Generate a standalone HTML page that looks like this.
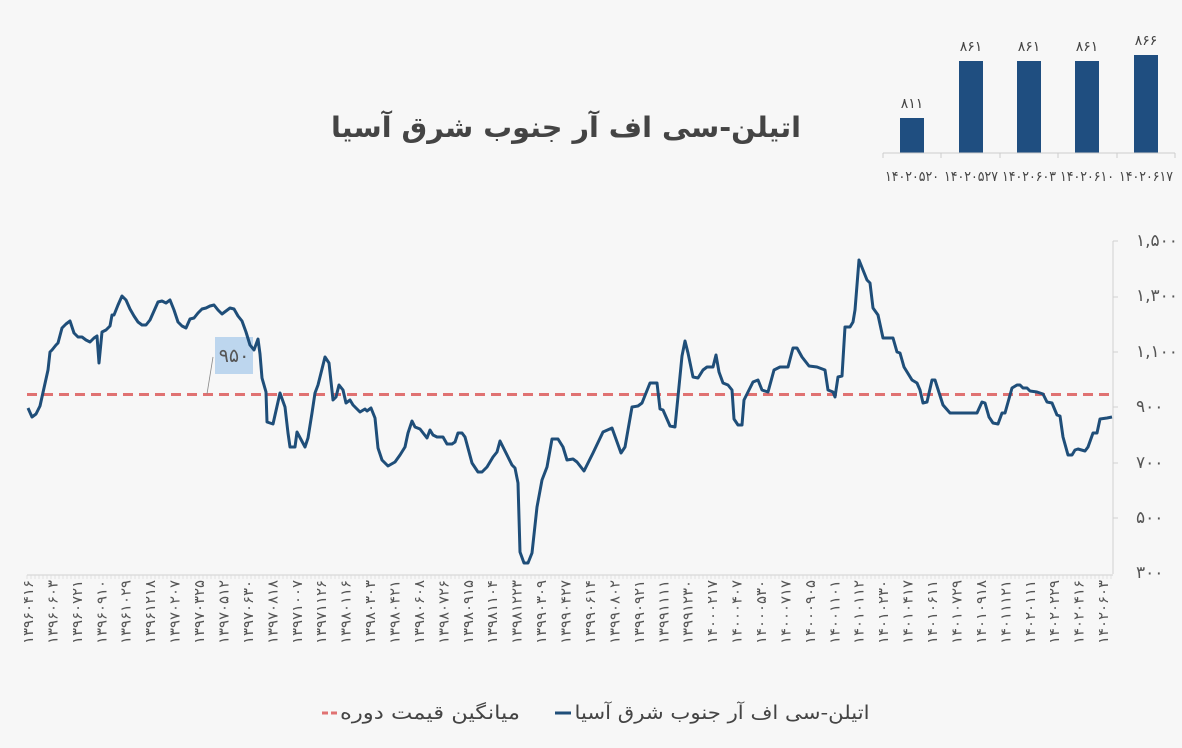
<!DOCTYPE html>
<html><head><meta charset="utf-8"><style>
html,body{margin:0;padding:0;background:#f7f7f7;}
svg{display:block;}
text{font-family:"DejaVu Sans","Liberation Sans",sans-serif;}
</style></head><body>
<svg width="1182" height="748" viewBox="0 0 1182 748" xmlns="http://www.w3.org/2000/svg">
<rect width="1182" height="748" fill="#f7f7f7"/>
<text x="566" y="137" text-anchor="middle" font-size="28" font-weight="bold" fill="#444" textLength="470" lengthAdjust="spacingAndGlyphs">اتیلن-سی اف آر جنوب شرق آسیا</text>
<g fill="#1f4e80">
<rect x="900" y="118" width="24" height="35"/>
<rect x="959" y="61" width="24" height="92"/>
<rect x="1017" y="61" width="24" height="92"/>
<rect x="1075" y="61" width="24" height="92"/>
<rect x="1134" y="55" width="24" height="98"/>
</g>
<line x1="883" y1="153" x2="1175" y2="153" stroke="#ccc" stroke-width="1"/>
<g stroke="#ccc" stroke-width="1">
<line x1="883" y1="153" x2="883" y2="158"/><line x1="941" y1="153" x2="941" y2="158"/><line x1="1000" y1="153" x2="1000" y2="158"/><line x1="1058" y1="153" x2="1058" y2="158"/><line x1="1117" y1="153" x2="1117" y2="158"/><line x1="1175" y1="153" x2="1175" y2="158"/>
</g>
<g font-size="14" fill="#444" text-anchor="middle">
<text x="912" y="108">۸۱۱</text><text x="971" y="51">۸۶۱</text><text x="1029" y="51">۸۶۱</text><text x="1087" y="51">۸۶۱</text><text x="1146" y="45">۸۶۶</text>
</g>
<g font-size="14" fill="#444" text-anchor="middle">
<text x="912" y="181" textLength="54" lengthAdjust="spacingAndGlyphs">۱۴۰۲۰۵۲۰</text><text x="971" y="181" textLength="54" lengthAdjust="spacingAndGlyphs">۱۴۰۲۰۵۲۷</text><text x="1029" y="181" textLength="54" lengthAdjust="spacingAndGlyphs">۱۴۰۲۰۶۰۳</text><text x="1087" y="181" textLength="54" lengthAdjust="spacingAndGlyphs">۱۴۰۲۰۶۱۰</text><text x="1146" y="181" textLength="54" lengthAdjust="spacingAndGlyphs">۱۴۰۲۰۶۱۷</text>
</g>
<line x1="1113" y1="241" x2="1113" y2="574" stroke="#d0d0d0" stroke-width="1"/>
<g stroke="#d0d0d0"><line x1="1113" y1="241" x2="1118" y2="241"/><line x1="1113" y1="297" x2="1118" y2="297"/><line x1="1113" y1="352" x2="1118" y2="352"/><line x1="1113" y1="407" x2="1118" y2="407"/><line x1="1113" y1="463" x2="1118" y2="463"/><line x1="1113" y1="518" x2="1118" y2="518"/></g>
<g font-size="17" fill="#555">
<text x="1136" y="246">۱,۵۰۰</text><text x="1136" y="301">۱,۳۰۰</text><text x="1136" y="357">۱,۱۰۰</text><text x="1136" y="412">۹۰۰</text><text x="1136" y="468">۷۰۰</text><text x="1136" y="523">۵۰۰</text><text x="1136" y="578">۳۰۰</text>
</g>
<line x1="27" y1="575" x2="1113" y2="575" stroke="#d0d0d0" stroke-width="1"/>
<path stroke="#dadada" stroke-width="0.8" d="
M27 575v4M31 575v4M35 575v4M39 575v4M43 575v4M47 575v4M51 575v4M55 575v4M59 575v4M63 575v4M67 575v4M71 575v4M75 575v4M79 575v4M83 575v4M87 575v4M91 575v4M95 575v4M99 575v4M103 575v4M107 575v4M111 575v4M115 575v4M119 575v4M123 575v4M127 575v4M131 575v4M135 575v4M139 575v4M143 575v4M147 575v4M151 575v4M155 575v4M159 575v4M163 575v4M167 575v4M171 575v4M175 575v4M179 575v4M183 575v4M187 575v4M191 575v4M195 575v4M199 575v4M203 575v4M207 575v4M211 575v4M215 575v4M219 575v4M223 575v4M227 575v4M231 575v4M235 575v4M239 575v4M243 575v4M247 575v4M251 575v4M255 575v4M259 575v4M263 575v4M267 575v4M271 575v4M275 575v4M279 575v4M283 575v4M287 575v4M291 575v4M295 575v4M299 575v4M303 575v4M307 575v4M311 575v4M315 575v4M319 575v4M323 575v4M327 575v4M331 575v4M335 575v4M339 575v4M343 575v4M347 575v4M351 575v4M355 575v4M359 575v4M363 575v4M367 575v4M371 575v4M375 575v4M379 575v4M383 575v4M387 575v4M391 575v4M395 575v4M399 575v4M403 575v4M407 575v4M411 575v4M415 575v4M419 575v4M423 575v4M427 575v4M431 575v4M435 575v4M439 575v4M443 575v4M447 575v4M451 575v4M455 575v4M459 575v4M463 575v4M467 575v4M471 575v4M475 575v4M479 575v4M483 575v4M487 575v4M491 575v4M495 575v4M499 575v4M503 575v4M507 575v4M511 575v4M515 575v4M519 575v4M523 575v4M527 575v4M531 575v4M535 575v4M539 575v4M543 575v4M547 575v4M551 575v4M555 575v4M559 575v4M563 575v4M567 575v4M571 575v4M575 575v4M579 575v4M583 575v4M587 575v4M591 575v4M595 575v4M599 575v4M603 575v4M607 575v4M611 575v4M615 575v4M619 575v4M623 575v4M627 575v4M631 575v4M635 575v4M639 575v4M643 575v4M647 575v4M651 575v4M655 575v4M659 575v4M663 575v4M667 575v4M671 575v4M675 575v4M679 575v4M683 575v4M687 575v4M691 575v4M695 575v4M699 575v4M703 575v4M707 575v4M711 575v4M715 575v4M719 575v4M723 575v4M727 575v4M731 575v4M735 575v4M739 575v4M743 575v4M747 575v4M751 575v4M755 575v4M759 575v4M763 575v4M767 575v4M771 575v4M775 575v4M779 575v4M783 575v4M787 575v4M791 575v4M795 575v4M799 575v4M803 575v4M807 575v4M811 575v4M815 575v4M819 575v4M823 575v4M827 575v4M831 575v4M835 575v4M839 575v4M843 575v4M847 575v4M851 575v4M855 575v4M859 575v4M863 575v4M867 575v4M871 575v4M875 575v4M879 575v4M883 575v4M887 575v4M891 575v4M895 575v4M899 575v4M903 575v4M907 575v4M911 575v4M915 575v4M919 575v4M923 575v4M927 575v4M931 575v4M935 575v4M939 575v4M943 575v4M947 575v4M951 575v4M955 575v4M959 575v4M963 575v4M967 575v4M971 575v4M975 575v4M979 575v4M983 575v4M987 575v4M991 575v4M995 575v4M999 575v4M1003 575v4M1007 575v4M1011 575v4M1015 575v4M1019 575v4M1023 575v4M1027 575v4M1031 575v4M1035 575v4M1039 575v4M1043 575v4M1047 575v4M1051 575v4M1055 575v4M1059 575v4M1063 575v4M1067 575v4M1071 575v4M1075 575v4M1079 575v4M1083 575v4M1087 575v4M1091 575v4M1095 575v4M1099 575v4M1103 575v4M1107 575v4M1111 575v4"/>
<g font-size="14" fill="#555" text-anchor="end">
<text transform="translate(33,580) rotate(-90)" textLength="64" lengthAdjust="spacingAndGlyphs">۱۳۹۶۰۴۱۶</text>
<text transform="translate(57.4,580) rotate(-90)" textLength="64" lengthAdjust="spacingAndGlyphs">۱۳۹۶۰۶۰۳</text>
<text transform="translate(81.9,580) rotate(-90)" textLength="64" lengthAdjust="spacingAndGlyphs">۱۳۹۶۰۷۲۱</text>
<text transform="translate(106.3,580) rotate(-90)" textLength="64" lengthAdjust="spacingAndGlyphs">۱۳۹۶۰۹۱۰</text>
<text transform="translate(130.7,580) rotate(-90)" textLength="64" lengthAdjust="spacingAndGlyphs">۱۳۹۶۱۰۲۹</text>
<text transform="translate(155.2,580) rotate(-90)" textLength="64" lengthAdjust="spacingAndGlyphs">۱۳۹۶۱۲۱۸</text>
<text transform="translate(179.6,580) rotate(-90)" textLength="64" lengthAdjust="spacingAndGlyphs">۱۳۹۷۰۲۰۷</text>
<text transform="translate(204,580) rotate(-90)" textLength="64" lengthAdjust="spacingAndGlyphs">۱۳۹۷۰۳۲۵</text>
<text transform="translate(228.5,580) rotate(-90)" textLength="64" lengthAdjust="spacingAndGlyphs">۱۳۹۷۰۵۱۲</text>
<text transform="translate(252.9,580) rotate(-90)" textLength="64" lengthAdjust="spacingAndGlyphs">۱۳۹۷۰۶۳۰</text>
<text transform="translate(277.3,580) rotate(-90)" textLength="64" lengthAdjust="spacingAndGlyphs">۱۳۹۷۰۸۱۸</text>
<text transform="translate(301.8,580) rotate(-90)" textLength="64" lengthAdjust="spacingAndGlyphs">۱۳۹۷۱۰۰۷</text>
<text transform="translate(326.2,580) rotate(-90)" textLength="64" lengthAdjust="spacingAndGlyphs">۱۳۹۷۱۱۲۶</text>
<text transform="translate(350.6,580) rotate(-90)" textLength="64" lengthAdjust="spacingAndGlyphs">۱۳۹۸۰۱۱۶</text>
<text transform="translate(375.1,580) rotate(-90)" textLength="64" lengthAdjust="spacingAndGlyphs">۱۳۹۸۰۳۰۳</text>
<text transform="translate(399.5,580) rotate(-90)" textLength="64" lengthAdjust="spacingAndGlyphs">۱۳۹۸۰۴۲۱</text>
<text transform="translate(423.9,580) rotate(-90)" textLength="64" lengthAdjust="spacingAndGlyphs">۱۳۹۸۰۶۰۸</text>
<text transform="translate(448.4,580) rotate(-90)" textLength="64" lengthAdjust="spacingAndGlyphs">۱۳۹۸۰۷۲۶</text>
<text transform="translate(472.8,580) rotate(-90)" textLength="64" lengthAdjust="spacingAndGlyphs">۱۳۹۸۰۹۱۵</text>
<text transform="translate(497.2,580) rotate(-90)" textLength="64" lengthAdjust="spacingAndGlyphs">۱۳۹۸۱۱۰۴</text>
<text transform="translate(521.7,580) rotate(-90)" textLength="64" lengthAdjust="spacingAndGlyphs">۱۳۹۸۱۲۲۳</text>
<text transform="translate(546.1,580) rotate(-90)" textLength="64" lengthAdjust="spacingAndGlyphs">۱۳۹۹۰۳۰۹</text>
<text transform="translate(570.5,580) rotate(-90)" textLength="64" lengthAdjust="spacingAndGlyphs">۱۳۹۹۰۴۲۷</text>
<text transform="translate(595,580) rotate(-90)" textLength="64" lengthAdjust="spacingAndGlyphs">۱۳۹۹۰۶۱۴</text>
<text transform="translate(619.4,580) rotate(-90)" textLength="64" lengthAdjust="spacingAndGlyphs">۱۳۹۹۰۸۰۲</text>
<text transform="translate(643.8,580) rotate(-90)" textLength="64" lengthAdjust="spacingAndGlyphs">۱۳۹۹۰۹۲۱</text>
<text transform="translate(668.3,580) rotate(-90)" textLength="64" lengthAdjust="spacingAndGlyphs">۱۳۹۹۱۱۱۱</text>
<text transform="translate(692.7,580) rotate(-90)" textLength="64" lengthAdjust="spacingAndGlyphs">۱۳۹۹۱۲۳۰</text>
<text transform="translate(717.1,580) rotate(-90)" textLength="64" lengthAdjust="spacingAndGlyphs">۱۴۰۰۰۲۱۷</text>
<text transform="translate(741.6,580) rotate(-90)" textLength="64" lengthAdjust="spacingAndGlyphs">۱۴۰۰۰۴۰۷</text>
<text transform="translate(766,580) rotate(-90)" textLength="64" lengthAdjust="spacingAndGlyphs">۱۴۰۰۰۵۳۰</text>
<text transform="translate(790.4,580) rotate(-90)" textLength="64" lengthAdjust="spacingAndGlyphs">۱۴۰۰۰۷۱۷</text>
<text transform="translate(814.9,580) rotate(-90)" textLength="64" lengthAdjust="spacingAndGlyphs">۱۴۰۰۰۹۰۵</text>
<text transform="translate(839.3,580) rotate(-90)" textLength="64" lengthAdjust="spacingAndGlyphs">۱۴۰۰۱۱۰۱</text>
<text transform="translate(863.7,580) rotate(-90)" textLength="64" lengthAdjust="spacingAndGlyphs">۱۴۰۱۰۱۱۲</text>
<text transform="translate(888.2,580) rotate(-90)" textLength="64" lengthAdjust="spacingAndGlyphs">۱۴۰۱۰۲۳۰</text>
<text transform="translate(912.6,580) rotate(-90)" textLength="64" lengthAdjust="spacingAndGlyphs">۱۴۰۱۰۴۱۷</text>
<text transform="translate(937,580) rotate(-90)" textLength="64" lengthAdjust="spacingAndGlyphs">۱۴۰۱۰۶۱۱</text>
<text transform="translate(961.5,580) rotate(-90)" textLength="64" lengthAdjust="spacingAndGlyphs">۱۴۰۱۰۷۲۹</text>
<text transform="translate(985.9,580) rotate(-90)" textLength="64" lengthAdjust="spacingAndGlyphs">۱۴۰۱۰۹۱۸</text>
<text transform="translate(1010.3,580) rotate(-90)" textLength="64" lengthAdjust="spacingAndGlyphs">۱۴۰۱۱۱۲۱</text>
<text transform="translate(1034.8,580) rotate(-90)" textLength="64" lengthAdjust="spacingAndGlyphs">۱۴۰۲۰۱۱۱</text>
<text transform="translate(1059.2,580) rotate(-90)" textLength="64" lengthAdjust="spacingAndGlyphs">۱۴۰۲۰۲۲۹</text>
<text transform="translate(1083.6,580) rotate(-90)" textLength="64" lengthAdjust="spacingAndGlyphs">۱۴۰۲۰۴۱۶</text>
<text transform="translate(1108,580) rotate(-90)" textLength="64" lengthAdjust="spacingAndGlyphs">۱۴۰۲۰۶۰۳</text>
</g>
<line x1="27" y1="394.5" x2="1110" y2="394.5" stroke="#e07272" stroke-width="3" stroke-dasharray="10,6"/>
<line x1="213" y1="357" x2="207" y2="394" stroke="#888" stroke-width="0.8"/>
<rect x="215" y="337" width="38" height="37" fill="#bdd6ee"/>
<text x="234" y="362" text-anchor="middle" font-size="19" fill="#555">۹۵۰</text>
<polyline fill="none" stroke="#1f4e79" stroke-width="3" stroke-linejoin="round" points="
28,408 32,417 36,414 40,406 44,388 48,370 50,352 52,350 56,345 58,343 62,328 66,324 70,321 74,333 78,337 82,337 86,340 90,342 94,338 97,336 99,363 102,332 106,330 110,326 112,315 114,315 118,305 122,296 126,300 130,309 134,316 138,322 142,325 146,325 150,320 154,311 158,302 162,301 166,303 170,300 174,310 178,322 182,326 186,328 190,319 194,318 198,313 202,309 206,308 210,306 214,305 218,310 222,314 226,311 230,308 234,309 238,316 242,321 246,332 250,345 254,350 258,339 260,354 262,378 266,392 267,422 273,424 280,393 285,407 288,433 290,447 295,447 297,432 305,447 308,438 312,413 315,393 318,385 325,357 329,363 333,400 336,397 339,385 343,390 346,403 350,400 353,405 360,412 365,409 367,411 371,408 375,418 378,448 382,460 388,466 395,462 400,455 405,447 408,433 412,421 415,427 420,429 427,438 430,430 433,435 437,437 443,437 447,444 452,444 455,442 458,433 462,433 465,437 472,463 478,472 482,472 487,467 493,457 497,452 500,441 503,447 508,457 512,465 515,468 518,483 520,552 524,563 528,563 532,553 537,507 542,480 547,467 552,439 558,439 563,447 567,460 573,459 577,462 584,471 593,453 603,432 612,428 621,453 625,447 632,407 638,406 642,403 650,383 657,383 660,409 663,410 670,426 675,427 682,356 685,341 688,353 693,377 698,378 703,370 707,367 713,367 716,355 719,372 723,383 728,385 732,390 734,419 738,425 742,425 744,400 753,382 758,380 762,390 768,392 774,370 780,367 788,367 793,348 797,348 802,357 809,366 817,367 825,370 828,390 833,392 835,397 838,377 842,376 845,327 850,327 853,322 855,310 859,260 863,270 867,280 870,283 873,308 878,315 883,338 893,338 897,352 900,353 904,367 912,380 917,383 920,390 923,403 927,402 932,380 935,380 943,405 950,413 977,413 982,402 985,403 989,417 993,423 998,424 1002,413 1005,413 1012,388 1017,385 1020,385 1023,388 1027,388 1030,391 1037,392 1043,394 1047,402 1052,403 1057,415 1060,416 1063,437 1068,455 1072,455 1075,450 1078,449 1085,451 1088,447 1093,433 1097,433 1100,419 1107,418 1112,417"/>
<text x="722" y="719" text-anchor="middle" font-size="19" fill="#444" textLength="295" lengthAdjust="spacingAndGlyphs">اتیلن-سی اف آر جنوب شرق آسیا</text>
<line x1="555" y1="713" x2="571" y2="713" stroke="#1f4e79" stroke-width="3"/>
<text x="430" y="719" text-anchor="middle" font-size="19" fill="#444" textLength="180" lengthAdjust="spacingAndGlyphs">میانگین قیمت دوره</text>
<line x1="322" y1="713" x2="338" y2="713" stroke="#e07272" stroke-width="3" stroke-dasharray="6,3"/>
</svg>
</body></html>
